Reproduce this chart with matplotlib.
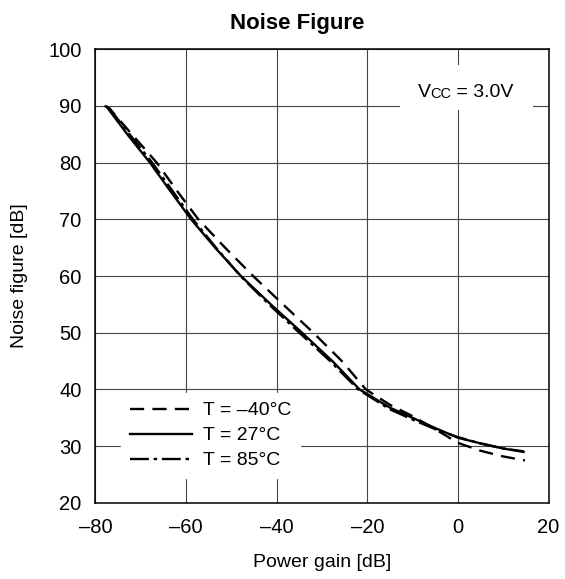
import matplotlib
matplotlib.use("Agg")
import matplotlib.pyplot as plt

plt.rcParams['font.family'] = ['Liberation Sans', 'DejaVu Sans']

# power gain [dB] vs noise figure [dB] for three temperatures
gain_m40 = [-78, -77, -72, -66.5, -62, -57.3, -51.4, -45.2, -38.6, -31.9, -25.6, -20.3,
            -15, -10, -5, 0, 5, 10, 14.8]
nf_m40 = [90, 89.6, 85, 80, 75, 70, 65, 60, 55, 50, 45, 40,
          37.3, 35.3, 33.0, 30.6, 29.2, 28.2, 27.5]

gain_27 = [-77.5, -73, -68, -63.5, -58.9, -53.6, -47.9, -41.3, -34.4, -27.7, -21.7,
           -15, -10, -5, 0, 5, 10, 14.5]
nf_27 = [89.8, 85, 80, 75, 70, 65, 60, 55, 50, 45, 40,
         36.8, 35, 33.2, 31.5, 30.5, 29.6, 29.0]

gain_85 = [-77, -72.5, -67.5, -63, -58.5, -53.4, -48.0, -41.7, -35.0, -28.2, -22,
           -15, -10, -5, 0, 5, 10, 14.5]
nf_85 = [89.6, 85, 80, 75, 70, 65, 60, 55, 50, 45, 40,
         36.5, 34.7, 33.0, 31.6, 30.5, 29.6, 29.1]

labels = ["T = \u201340\u00b0C", "T = 27\u00b0C", "T = 85\u00b0C"]
xticks = [-80, -60, -40, -20, 0, 20]
yticks = [20, 30, 40, 50, 60, 70, 80, 90, 100]

fig = plt.figure(figsize=(5.65, 5.79), dpi=100)
ax = fig.add_axes([0.169, 0.1313, 0.8018, 0.784])

ax.plot(gain_m40, nf_m40, color='black', lw=1.7, dashes=(6, 3.5), label=labels[0])
ax.plot(gain_27, nf_27, color='black', lw=1.7, label=labels[1])
ax.plot(gain_85, nf_85, color='black', lw=1.7, dashes=(8, 2, 1.5, 2), label=labels[2])

ax.set_xlim(-80, 20)
ax.set_ylim(20, 100)
ax.set_xticks(xticks)
ax.set_yticks(yticks)
ax.set_xticklabels([str(t).replace('-', '\u2013') for t in xticks])
ax.grid(True, color='#444444', lw=0.8)
ax.set_axisbelow(True)
ax.tick_params(labelsize=14.5, length=0)
ax.tick_params(axis='x', pad=11)
ax.tick_params(axis='y', pad=10)
for s in ax.spines.values():
    s.set_linewidth(1.1)

fig.text(0.526, 0.960, "Noise Figure", fontsize=16, fontweight='bold',
         ha='center', va='center')
ax.set_xlabel("Power gain [dB]", fontsize=14)
ax.set_ylabel("Noise figure [dB]", fontsize=14)
ax.xaxis.set_label_coords(0.5, -0.132)
ax.xaxis.label.set_va('center')
ax.yaxis.set_label_coords(-0.167, 0.5)
ax.yaxis.label.set_va('center')

leg = ax.legend(loc='upper left', bbox_to_anchor=(0.056, 0.242), borderaxespad=0,
                frameon=True, fontsize=14, handlelength=3.2, handletextpad=0.57,
                labelspacing=0.38, borderpad=0.45, fancybox=False)
leg.get_frame().set_edgecolor('white')
leg.get_frame().set_facecolor('white')
leg.get_frame().set_alpha(1)

# Vcc label on a white box that hides the grid
ax.add_patch(plt.Rectangle((0.672, 0.866), 0.294, 0.099, transform=ax.transAxes,
                           facecolor='white', edgecolor='none', zorder=1.5))
t1 = ax.text(0.7107, 0.894, "V", transform=ax.transAxes, fontsize=14, va='baseline')
t2 = ax.annotate("CC", xy=(1, 0), xycoords=t1, va='bottom', fontsize=10.5)
t3 = ax.annotate(" = 3.0V", xy=(1, 0), xycoords=t2, va='bottom', fontsize=14)

fig.savefig("out.png", dpi=100)
